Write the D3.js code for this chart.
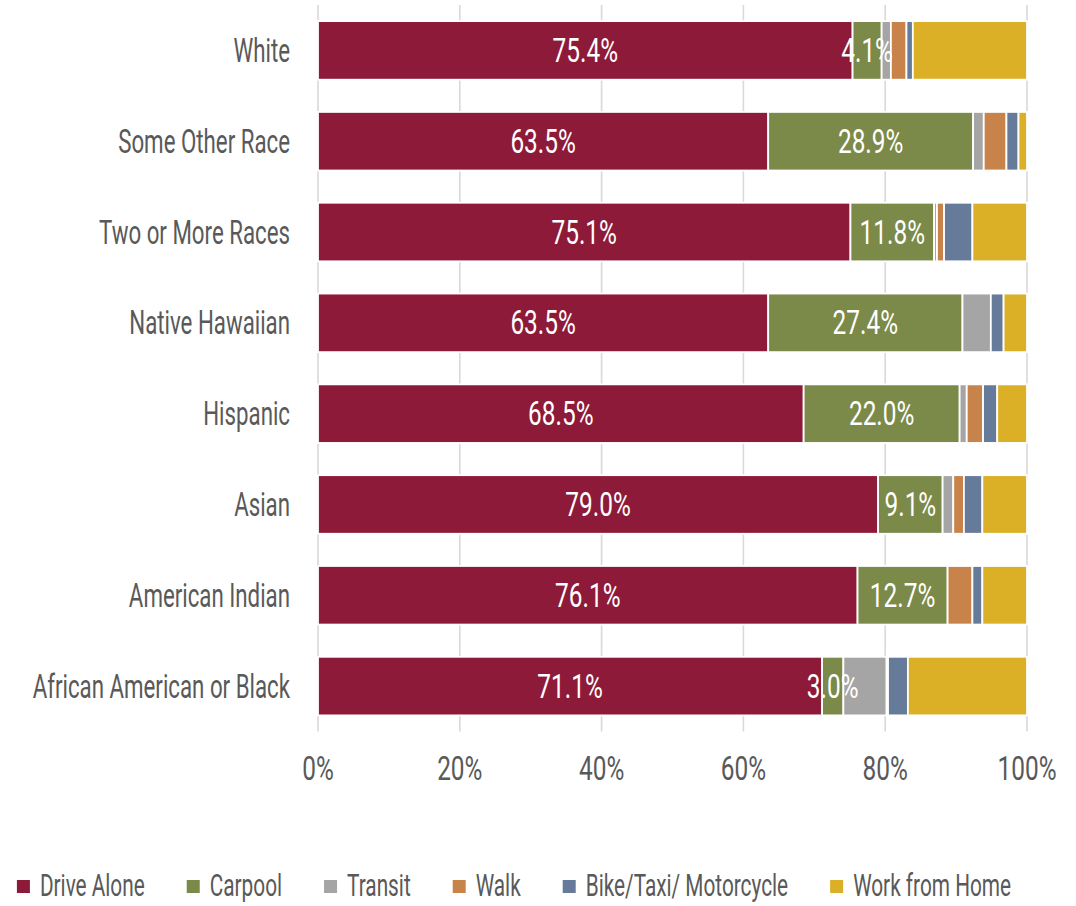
<!DOCTYPE html>
<html>
<head>
<meta charset="utf-8">
<script src="https://cdn.jsdelivr.net/npm/d3@7"></script>
<style>
  html, body { margin: 0; padding: 0; background: #ffffff; }
  svg { display: block; }
</style>
</head>
<body>
<div id="chart"></div>
<script>
// Commute mode share by race / ethnicity (percent of workers)
const categories = [
  "White",
  "Some Other Race",
  "Two or More Races",
  "Native Hawaiian",
  "Hispanic",
  "Asian",
  "American Indian",
  "African American or Black"
];
const seriesNames = ["Drive Alone", "Carpool", "Transit", "Walk", "Bike/Taxi/ Motorcycle", "Work from Home"];
const driveAlone   = [75.4, 63.5, 75.1, 63.5, 68.5, 79.0, 76.1, 71.1];
const carpool      = [ 4.1, 28.9, 11.8, 27.4, 22.0,  9.1, 12.7,  3.0];
const transit      = [ 1.3,  1.5,  0.4,  4.0,  1.0,  1.5,  0.0,  6.1];
const walk         = [ 2.2,  3.2,  1.0,  0.0,  2.3,  1.5,  3.5,  0.2];
const bikeTaxiMoto = [ 0.9,  1.7,  4.0,  1.8,  2.0,  2.6,  1.4,  2.8];
const workFromHome = [16.1,  1.2,  7.7,  3.3,  4.2,  6.3,  6.3, 16.8];
const tickValues = [0, 20, 40, 60, 80, 100];
const labelledSeries = ["Drive Alone", "Carpool"];

const seriesValues = [driveAlone, carpool, transit, walk, bikeTaxiMoto, workFromHome];
const colors = ["#8e1a39", "#7b8949", "#a5a5a5", "#c8834a", "#667a9a", "#dbb027"];

const W = 1076, H = 906;
const FONT = "Roboto, 'Liberation Sans', sans-serif";
const FS = 33;           // font size
const LEG_FS = 32;       // legend font size
const CAT_SX = 0.675;    // horizontal squeeze for category labels
const LEG_SX = 0.65;     // horizontal squeeze for legend labels
const NUM_SX = 0.74;     // horizontal squeeze for numeric labels
const TEXT_COLOR = "#595959";

const table = categories.map((c, i) => {
  const row = { category: c };
  seriesNames.forEach((s, j) => { row[s] = seriesValues[j][i]; });
  return row;
});
const stacked = d3.stack().keys(seriesNames)(table);

const svg = d3.select("#chart").append("svg")
  .attr("width", W).attr("height", H)
  .style("font-family", FONT);

const x = d3.scaleLinear().domain([0, 100]).range([318, 1027]);
const y = d3.scaleBand().domain(categories).range([5, 731.5])
  .paddingInner(0.355).paddingOuter(0.1775);
const color = d3.scaleOrdinal().domain(seriesNames).range(colors);

// squeezed text helper: group positioned at (px,py), glyphs scaled horizontally
function squeezedText(parent, px, py, str, sx, fs = FS) {
  const g = parent.append("g").attr("transform", `translate(${px},${py})`);
  const t = g.append("text")
    .attr("transform", `scale(${sx},1)`)
    .attr("font-size", fs)
    .text(str);
  return t;
}

// vertical gridlines
svg.append("g").selectAll("line")
  .data(tickValues).join("line")
  .attr("x1", d => x(d)).attr("x2", d => x(d))
  .attr("y1", 5).attr("y2", 731.5)
  .attr("stroke", "#d9d9d9").attr("stroke-width", 1.6);

// x axis tick labels
const xAxis = svg.append("g");
tickValues.forEach(v => {
  squeezedText(xAxis, x(v), 780, d3.format(".0%")(v / 100), NUM_SX)
    .attr("text-anchor", "middle").attr("fill", TEXT_COLOR);
});

// category labels
const yAxis = svg.append("g");
categories.forEach(c => {
  squeezedText(yAxis, 290, y(c) + y.bandwidth() / 2, c, CAT_SX)
    .attr("text-anchor", "end").attr("dy", "0.35em").attr("fill", TEXT_COLOR);
});

// stacked bars
const layers = svg.append("g").selectAll("g")
  .data(stacked).join("g")
  .attr("fill", d => color(d.key));
layers.selectAll("rect")
  .data(d => d.filter(p => p[1] - p[0] > 0))
  .join("rect")
  .attr("x", d => x(d[0]))
  .attr("y", d => y(d.data.category))
  .attr("width", d => x(d[1]) - x(d[0]))
  .attr("height", y.bandwidth())
  .attr("stroke", "#ffffff").attr("stroke-width", 1.8);

// value labels on Drive Alone and Carpool segments
const labels = svg.append("g");
stacked.filter(s => labelledSeries.includes(s.key)).forEach(s => {
  s.forEach(p => {
    const cx = (x(p[0]) + x(p[1])) / 2;
    const cy = y(p.data.category) + y.bandwidth() / 2;
    squeezedText(labels, cx, cy, (p[1] - p[0]).toFixed(1) + "%", NUM_SX)
      .attr("text-anchor", "middle").attr("dy", "0.35em").attr("fill", "#ffffff");
  });
});

// legend
const legend = svg.append("g");
const MARK = 13, MARK_GAP = 10, ITEM_GAP = 42;
const items = seriesNames.map(name => {
  const g = legend.append("g");
  g.append("rect").attr("width", MARK).attr("height", MARK)
    .attr("y", -MARK / 2 + 1.5).attr("fill", color(name));
  const t = squeezedText(g, MARK + MARK_GAP, 0, name, LEG_SX, LEG_FS)
    .attr("dy", "0.35em").attr("fill", TEXT_COLOR);
  const w = MARK + MARK_GAP + t.node().getComputedTextLength() * LEG_SX;
  return { g, w };
});
const total = d3.sum(items, d => d.w) + ITEM_GAP * (items.length - 1);
let lx = 514 - total / 2;
items.forEach(it => {
  it.g.attr("transform", `translate(${lx},885)`);
  lx += it.w + ITEM_GAP;
});
</script>
</body>
</html>
